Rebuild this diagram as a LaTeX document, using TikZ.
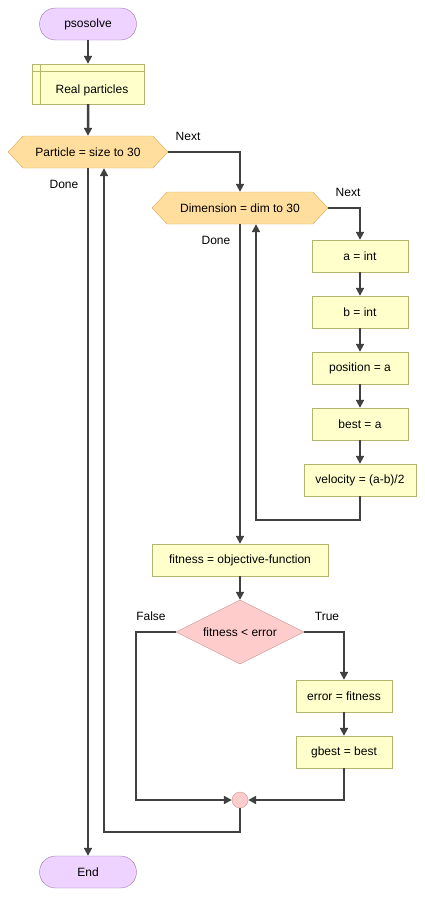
\documentclass[tikz,border=0pt]{standalone}
\usepackage{fontspec}
\setmainfont{Liberation Sans}
\usetikzlibrary{arrows.meta,shapes.geometric,shapes.symbols}

\definecolor{termfill}{RGB}{238,210,255}
\definecolor{termdraw}{RGB}{160,120,180}
\definecolor{boxfill}{RGB}{255,255,204}
\definecolor{boxdraw}{RGB}{180,180,110}
\definecolor{loopfill}{RGB}{255,222,158}
\definecolor{loopdraw}{RGB}{212,168,90}
\definecolor{condfill}{RGB}{255,204,204}
\definecolor{conddraw}{RGB}{200,150,150}
\definecolor{flowline}{RGB}{64,64,64}

\begin{document}
\begin{tikzpicture}[x = 1pt, y = -1pt, font = \fontsize{12}{14}\selectfont]
  % styles
  \tikzstyle{terminal} = [draw = termdraw, fill = termfill, rounded corners = 16pt,
    minimum width = 97pt, minimum height = 32pt, inner sep = 0pt]
  \tikzstyle{process} = [draw = boxdraw, fill = boxfill, minimum height = 32pt, inner sep = 0pt]
  \tikzstyle{forloop} = [draw = loopdraw, fill = loopfill, shape = signal,
    signal to = east and west, signal pointer angle = 93, minimum height = 32pt, inner sep = 0pt]
  \tikzstyle{decision} = [draw = conddraw, fill = condfill, shape = diamond, aspect = 2,
    minimum width = 128pt, minimum height = 64pt, inner sep = 0pt]
  \tikzstyle{junction} = [draw = conddraw, fill = condfill, circle, minimum size = 16pt, inner sep = 0pt]
  \tikzstyle{flow} = [draw = flowline, line width = 2.5pt,
    -{Triangle[length = 8pt, width = 8pt]}]

  \useasboundingbox (0, 0) rectangle (425, 897);

  % main column
  \node[terminal] (start) at (88, 24) {psosolve};
  \node[process, minimum width = 112pt, minimum height = 40pt] (real) at (88, 84)
    {\hspace*{8pt}\raisebox{-9pt}[0pt][0pt]{Real particles}};
  \draw[boxdraw] ([xshift = 8pt]real.north west) -- ([xshift = 8pt]real.south west);
  \draw[boxdraw] ([yshift = -7pt]real.north west) -- ([yshift = -7pt]real.north east);
  \node[forloop, minimum width = 160pt] (particle) at (88, 152) {Particle = size to 30};
  \node[terminal] (end) at (88, 872) {End};

  % inner loop
  \node[forloop, minimum width = 176pt] (dim) at (240, 208) {Dimension = dim to 30};
  \node[process, minimum width = 96pt] (a) at (360, 256) {a = int};
  \node[process, minimum width = 96pt] (b) at (360, 312) {b = int};
  \node[process, minimum width = 96pt] (pos) at (360, 368) {position = a};
  \node[process, minimum width = 96pt] (best) at (360, 424) {best = a};
  \node[process, minimum width = 112pt] (vel) at (360, 480) {velocity = (a-b)/2};

  % fitness check
  \node[process, minimum width = 176pt] (fit) at (240, 560) {fitness = objective-function};
  \node[decision] (cond) at (240, 632) {fitness < error};
  \node[process, minimum width = 96pt] (err) at (344, 696) {error = fitness};
  \node[process, minimum width = 96pt] (gbest) at (344, 752) {gbest = best};
  \node[junction] (merge) at (240, 800) {};

  % labels
  \node (next1) at (188, 136) {Next};
  \node (done1) at (64, 184) {Done};
  \node (next2) at (348, 192) {Next};
  \node (done2) at (216, 240) {Done};
  \node (false) at (151, 616) {False};
  \node (true) at (327, 616) {True};

  % corners
  \coordinate (back1) at (104, 832);
  \coordinate (back2) at (256, 520);
  \coordinate (fcorner) at (136, 800);

  % connectors
  \draw[flow] (start) -- (real);
  \draw[flow] (real) -- (particle);
  \draw[flow] (particle.east) -| (dim.north);
  \draw[flow] (particle.south) -- (end.north);
  \draw[flow] (merge.south) |- (back1) -- (back1 |- particle.south);
  \draw[flow] (dim.east) -| (a.north);
  \draw[flow] (dim.south) -- (fit.north);
  \draw[flow] (a) -- (b);
  \draw[flow] (b) -- (pos);
  \draw[flow] (pos) -- (best);
  \draw[flow] (best) -- (vel);
  \draw[flow] (vel.south) |- (back2) -- (back2 |- dim.south);
  \draw[flow] (fit) -- (cond);
  \draw[flow] (cond.east) -| (err.north);
  \draw[flow] (err) -- (gbest);
  \draw[flow] (gbest.south) |- (merge.east);
  \draw[flow] (cond.west) -| (fcorner) -- (merge.west);

\end{tikzpicture}
\end{document}
